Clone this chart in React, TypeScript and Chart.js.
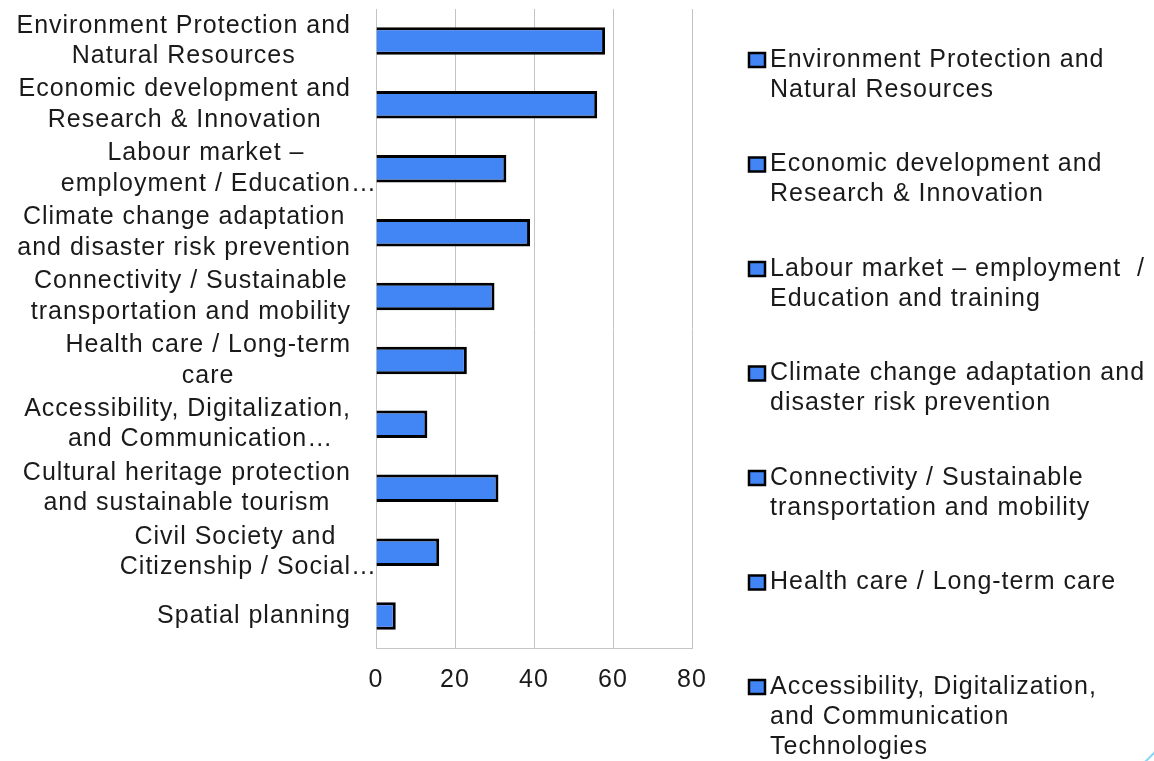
import React, { useEffect, useRef } from 'react';
import { Chart, registerables } from 'chart.js';

Chart.register(...registerables);

// ---- data ----
const categories: string[] = [
  'Environment Protection and Natural Resources',
  'Economic development and Research & Innovation',
  'Labour market – employment / Education and training',
  'Climate change adaptation and disaster risk prevention',
  'Connectivity / Sustainable transportation and mobility',
  'Health care / Long-term care',
  'Accessibility, Digitalization, and Communication Technologies',
  'Cultural heritage protection and sustainable tourism',
  'Civil Society and Citizenship / Social inclusion',
  'Spatial planning',
];

const axisLabelLines: string[][] = [
  ['Environment Protection and', 'Natural Resources'],
  ['Economic development and', 'Research & Innovation'],
  ['Labour market –', 'employment / Education…'],
  ['Climate change adaptation', 'and disaster risk prevention'],
  ['Connectivity / Sustainable', 'transportation and mobility'],
  ['Health care / Long-term', 'care'],
  ['Accessibility, Digitalization,', 'and Communication…'],
  ['Cultural heritage protection', 'and sustainable tourism'],
  ['Civil Society and', 'Citizenship / Social…'],
  ['Spatial planning'],
];

const legendLines: string[][] = [
  ['Environment Protection and', 'Natural Resources'],
  ['Economic development and', 'Research & Innovation'],
  ['Labour market – employment  /', 'Education and training'],
  ['Climate change adaptation and', 'disaster risk prevention'],
  ['Connectivity / Sustainable', 'transportation and mobility'],
  ['Health care / Long-term care'],
  ['Accessibility, Digitalization,', 'and Communication', 'Technologies'],
  ['Cultural heritage protection', 'and sustainable tourism'],
  ['Civil Society and Citizenship /', 'Social inclusion'],
  ['Spatial planning'],
];

const values: number[] = [58, 56, 33, 39, 30, 23, 13, 31, 16, 5];

const xTicks: number[] = [0, 20, 40, 60, 80];

// ---- styles ----
const FONT_FAMILY = '"Liberation Sans", Arial, sans-serif';
const FONT_SIZE = 25;
const LETTER_SPACING = '1px';
const TEXT_COLOR = '#1a1a1a';
const GRID_COLOR = '#c4c4c4';
const BAR_COLOR = '#4285F4';
const LINE_H = 30.5;
const LABEL_RIGHT = 351;

const customPlugin = {
  id: 'customText',
  beforeDraw(chart: any) {
    chart.ctx.letterSpacing = LETTER_SPACING;
  },
  afterDraw(chart: any) {
    const ctx = chart.ctx as CanvasRenderingContext2D;
    const yScale = chart.scales.y;
    ctx.save();
    (ctx as any).letterSpacing = LETTER_SPACING;
    ctx.font = `${FONT_SIZE}px ${FONT_FAMILY}`;
    ctx.fillStyle = TEXT_COLOR;
    ctx.textBaseline = 'middle';
    ctx.textAlign = 'left';

    // category labels: centered blocks, right-aligned to axis
    axisLabelLines.forEach((lines, i) => {
      const cy = yScale.getPixelForValue(i);
      const bare = lines.map((l) => l.replace(/…$/, ''));
      const widths = bare.map((l) => ctx.measureText(l).width);
      const maxW = Math.max(...widths);
      const cx = LABEL_RIGHT - maxW / 2;
      lines.forEach((l, j) => {
        ctx.fillText(l, cx - widths[j] / 2, cy + (j - (lines.length - 1) / 2) * LINE_H);
      });
    });

    // legend
    const legX = 749;
    const legY0 = 60;
    const legStep = 104.5;
    legendLines.forEach((lines, i) => {
      const y0 = legY0 + i * legStep;
      ctx.fillStyle = BAR_COLOR;
      ctx.fillRect(legX, y0 - 7, 16, 14);
      ctx.strokeStyle = '#000';
      ctx.lineWidth = 2.5;
      ctx.strokeRect(legX, y0 - 7, 16, 14);
      ctx.fillStyle = TEXT_COLOR;
      lines.forEach((l, j) => {
        ctx.fillText(l, 770, y0 + j * 30);
      });
    });

    // small decorative stroke at bottom-right corner
    ctx.strokeStyle = '#8fd3f4';
    ctx.lineWidth = 2;
    ctx.beginPath();
    ctx.moveTo(1145, 762);
    ctx.lineTo(1155, 752);
    ctx.stroke();
    ctx.restore();
  },
};

export default function App() {
  const canvasRef = useRef<HTMLCanvasElement | null>(null);

  useEffect(() => {
    if (!canvasRef.current) return;
    const chart = new Chart(canvasRef.current, {
      type: 'bar',
      data: {
        labels: categories,
        datasets: [
          {
            data: values,
            backgroundColor: BAR_COLOR,
            borderColor: '#000000',
            borderWidth: 3,
            barPercentage: 0.43,
            categoryPercentage: 1,
          },
        ],
      },
      options: {
        indexAxis: 'y',
        animation: false,
        responsive: false,
        maintainAspectRatio: false,
        layout: { padding: { top: 9, right: 462, left: 0, bottom: 0 } },
        plugins: {
          legend: { display: false },
          tooltip: { enabled: false },
        },
        scales: {
          x: {
            min: 0,
            max: 80,
            afterBuildTicks: (s: any) => {
              s.ticks = xTicks.map((v) => ({ value: v }));
            },
            ticks: {
              color: TEXT_COLOR,
              font: { family: FONT_FAMILY, size: FONT_SIZE },
              padding: 17,
              maxRotation: 0,
              autoSkip: false,
            },
            grid: { color: GRID_COLOR, drawTicks: false, lineWidth: 1 },
            border: { color: GRID_COLOR, width: 1 },
            afterFit: (s: any) => {
              s.height = 113;
            },
          },
          y: {
            ticks: { display: false },
            grid: { display: false },
            border: { display: true, color: GRID_COLOR, width: 1 },
            afterFit: (s: any) => {
              s.width = 376;
            },
          },
        },
      },
      plugins: [customPlugin],
    });
    return () => chart.destroy();
  }, []);

  return (
    <div style={{ position: 'fixed', left: 0, top: 0, width: 1154, height: 761, background: '#ffffff' }}>
      <canvas ref={canvasRef} width={1154} height={761} style={{ display: 'block' }} />
    </div>
  );
}
